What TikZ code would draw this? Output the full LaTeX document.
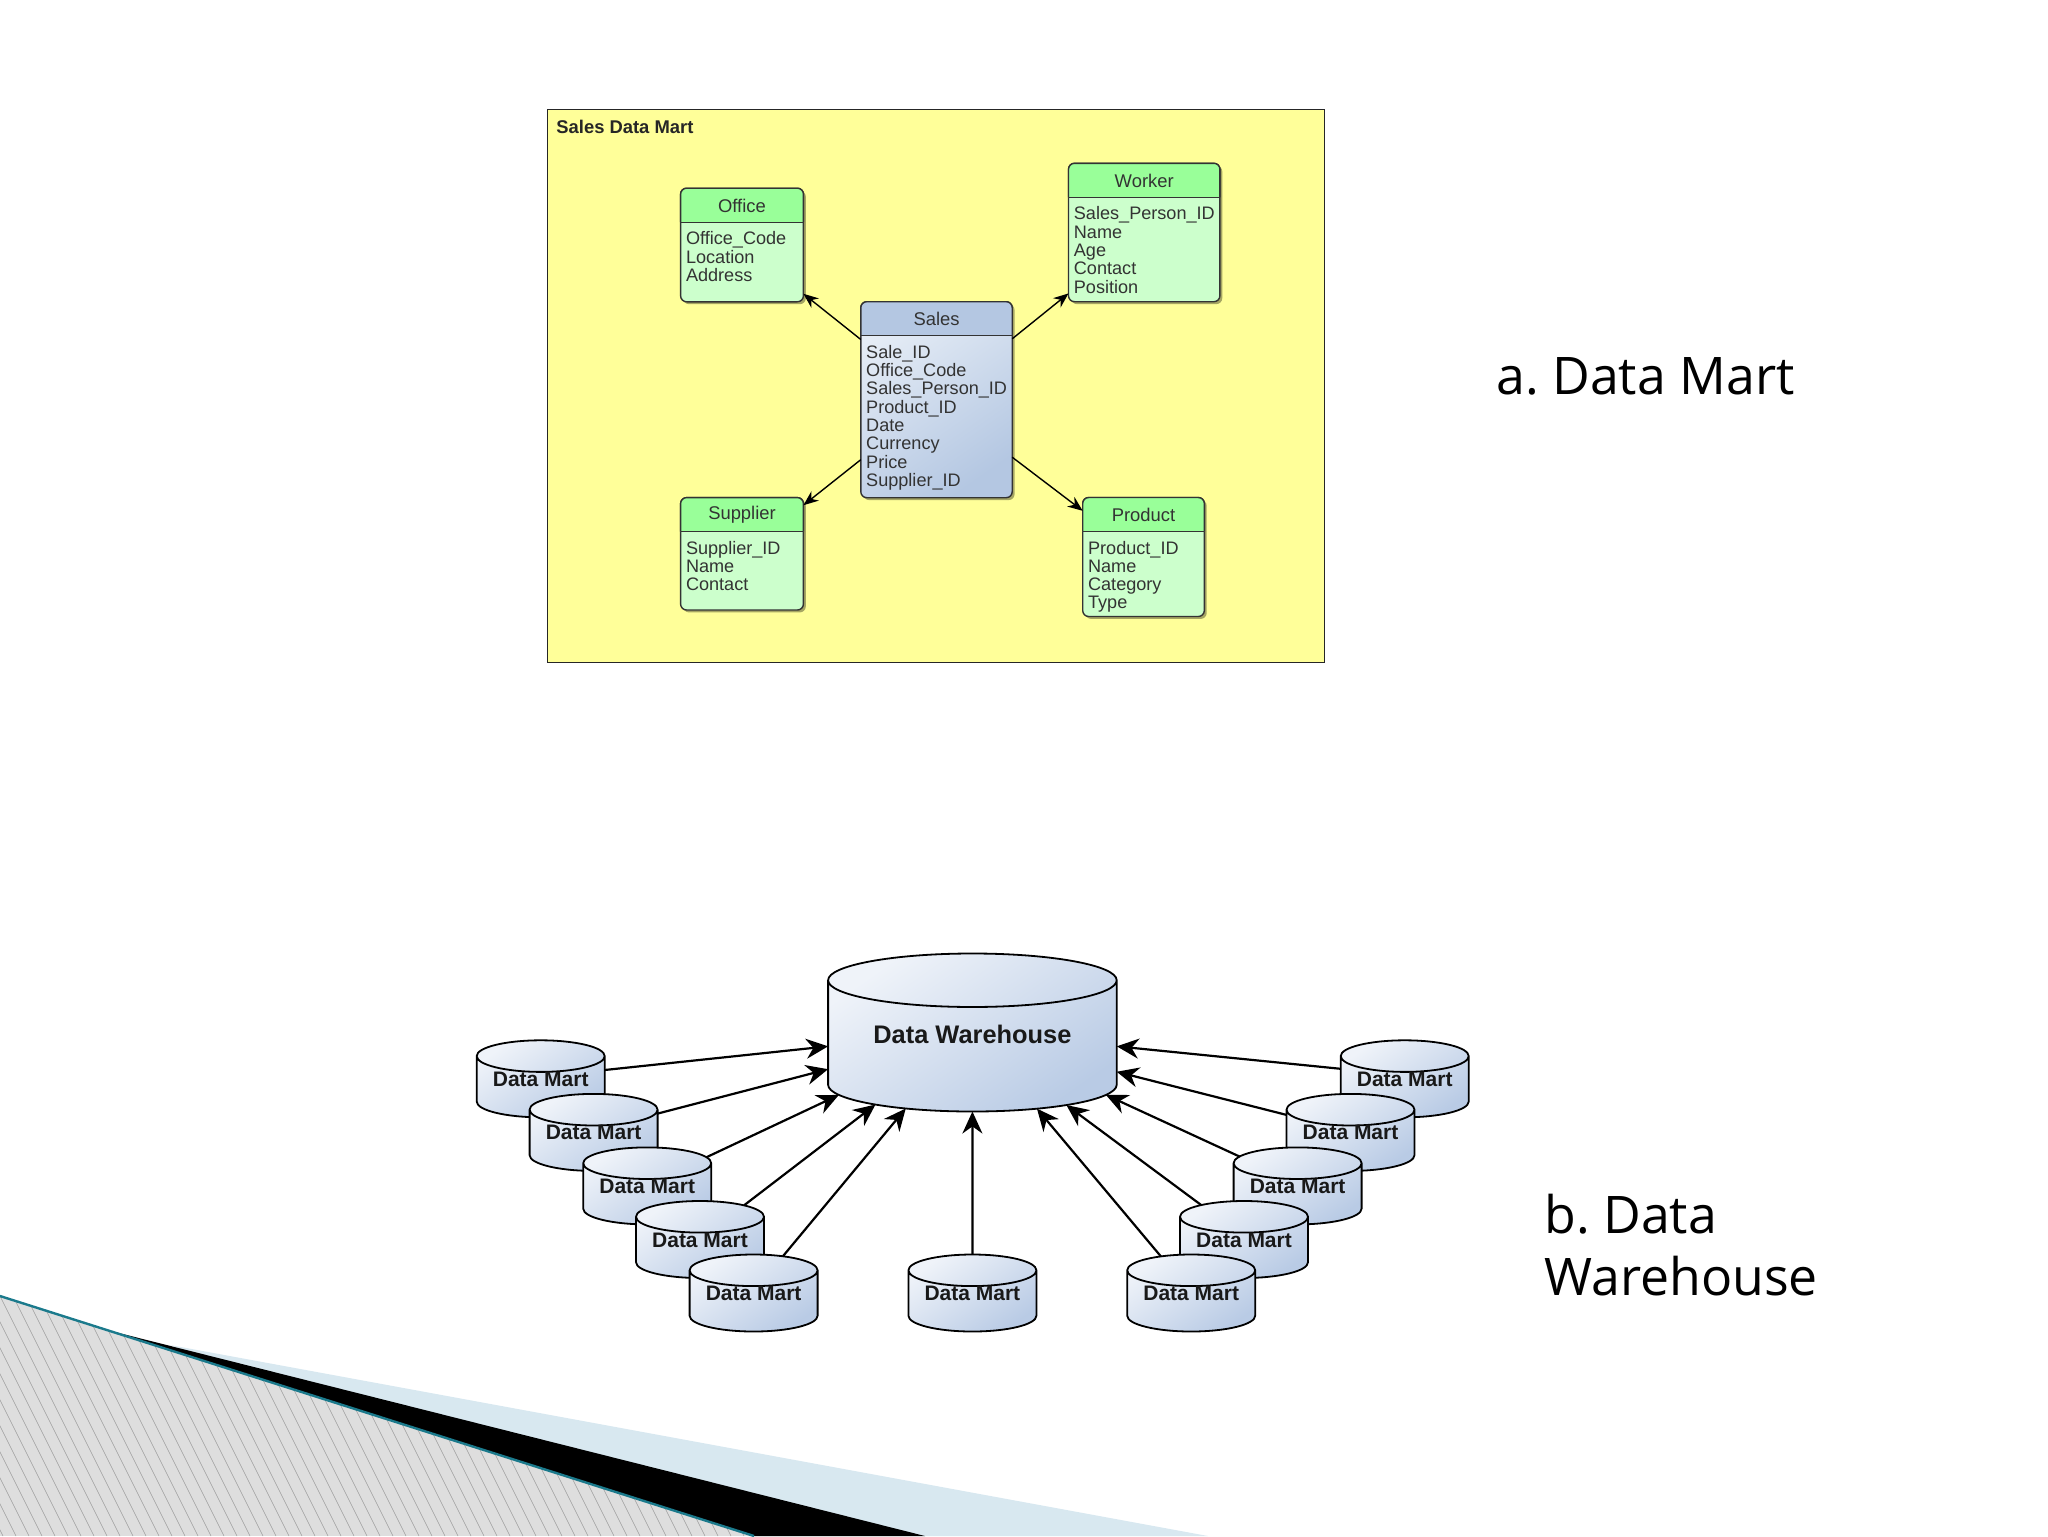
\documentclass[tikz,border=0pt]{standalone}
\usepackage{fontspec}
\setmainfont{Open Sans}
\newfontfamily\erfont{Liberation Sans}
\frenchspacing
\usetikzlibrary{positioning}
\usetikzlibrary{calc}
\usetikzlibrary{arrows.meta}
\usetikzlibrary{shapes.geometric}
\usetikzlibrary{shadows}

\definecolor{martyellow}{HTML}{FFFF99}
\definecolor{hdgreen}{HTML}{99FF99}
\definecolor{bdgreen}{HTML}{CCFFCC}
\definecolor{hdblue}{HTML}{B4C7E2}
\definecolor{bdblue}{HTML}{E6EDF6}
\definecolor{cylblue}{HTML}{B9CBE5}
\definecolor{cyllight}{HTML}{EFF3F9}
\definecolor{teal}{HTML}{1B7A8C}
\definecolor{pale}{HTML}{D8E8F0}

\tikzset{
	tblbox/.style={draw=black!80, line width=.7pt, rounded corners=3pt, inner sep=0pt, outer sep=0pt,
		drop shadow={shadow xshift=1.2pt, shadow yshift=-1.2pt, opacity=.35, fill=black}},
	greenbody/.style={tblbox, fill=bdgreen},
	bluebody/.style={tblbox, top color=bdblue, bottom color=hdblue, shading angle=35},
	tbltitle/.style={font=\erfont\fontsize{9.2}{9.2}\selectfont, text=black!80, inner sep=0pt},
	tblitems/.style={font=\erfont\fontsize{9.05}{9.15}\selectfont, text=black!80, align=left, inner sep=0pt, anchor=north west},
	erarrow/.style={-{Stealth[length=7.5pt,width=6pt]}, line width=.7pt, black},
	dbcyl/.style={cylinder, anchor=shape center, shape border rotate=90, draw=black, line width=.9pt, inner sep=0pt, outer sep=0pt,
		top color=cyllight, bottom color=cylblue, shading angle=35, text=black!90},
	martcyl/.style={dbcyl, aspect=.33, minimum width=64pt, minimum height=38.5pt, font=\erfont\bfseries\fontsize{10.5}{10.5}\selectfont},
	whcyl/.style={dbcyl, aspect=.27, minimum width=144.3pt, minimum height=79pt, font=\erfont\bfseries\fontsize{12.7}{12.7}\selectfont},
	wharrow/.style={-{Stealth[length=11pt,width=10pt]}, line width=1.1pt, black},
	sidelabel/.style={anchor=west, inner sep=0pt, align=left, font=\fontsize{25.9}{30.7}\selectfont, text=black},
}

% name, centre, width, height, body style, header colour, title, items
\newcommand{\dbtable}[8]{
	\node (#1) [#5, minimum width=#3, minimum height=#4] at #2 {};
	\coordinate (#1hl) at ($(#1.north west)+(0,34)$);
	\coordinate (#1hr) at ($(#1.north east)+(0,34)$);
	\draw[draw=black!80, line width=.7pt, fill=#6, rounded corners=3pt] (#1hl) -- (#1.north west) -- (#1.north east) -- (#1hr);
	\draw[draw=black!80, line width=.7pt] (#1hl) -- (#1hr);
	\node (#1title) [tbltitle] at ($(#1.north)+(0,17.5)$) {#7};
	\node (#1items) [tblitems] at ($(#1hl)+(5,9)$) {#8};
}

\begin{document}
\begin{tikzpicture}[x=.5pt,y=-.5pt]
	\useasboundingbox (0,0) rectangle (2048,1536);
	
	% corner decoration
	\fill[pale] (170,1345) -- (1208,1536) -- (700,1536) -- cycle;
	\fill[black] (115,1332) -- (925,1536) -- (754,1536) -- cycle;
	\begin{scope}
		\clip (0,1296) -- (754,1536) -- (0,1536) -- cycle;
		\fill[black!13] (0,1290) rectangle (760,1536);
		\foreach \hx in {-130,-117,...,760}
			\draw[black!38, line width=.25pt] (\hx,1296) -- ++(120,240);
	\end{scope}
	\draw[teal, line width=1.2pt] (0,1296) -- (754,1536);
	
	% sales data mart
	\node (martframe) [draw=black!85, line width=.7pt, fill=martyellow, minimum width=388.5pt, minimum height=276.2pt, inner sep=0pt] at (935.8,386) {};
	\node (marttitle) [font=\erfont\bfseries\fontsize{9.2}{9.2}\selectfont, text=black!85, inner sep=0pt, anchor=west] at (556,126.5) {Sales Data Mart};
	
	\dbtable{office}{(742,245)}{61.4pt}{56.8pt}{greenbody}{hdgreen}{Office}{Office\_Code\\Location\\Address}
	\dbtable{worker}{(1144.2,232.5)}{75.7pt}{69.2pt}{greenbody}{hdgreen}{Worker}{Sales\_Person\_ID\\Name\\Age\\Contact\\Position}
	\dbtable{sales}{(936.5,399.7)}{75.7pt}{98pt}{bluebody}{hdblue}{Sales}{Sale\_ID\\Office\_Code\\Sales\_Person\_ID\\Product\_ID\\Date\\Currency\\Price\\Supplier\_ID}
	\dbtable{supplier}{(742,553.8)}{61.4pt}{56.2pt}{greenbody}{hdgreen}{Supplier}{Supplier\_ID\\Name\\Contact}
	\dbtable{product}{(1143.5,557)}{60.8pt}{59.5pt}{greenbody}{hdgreen}{Product}{Product\_ID\\Name\\Category\\Type}
	
	\draw[erarrow] (sales) -- (office);
	\draw[erarrow] (sales) -- (worker);
	\draw[erarrow] (sales) -- (supplier);
	\draw[erarrow] (sales) -- (product);
	
	\node (labela) [sidelabel] at (1496,376) {a. Data Mart};
	
	% data warehouse
	\node (whouse) [whcyl] at (972.4,1032.5) {\raisebox{0pt}[0pt][2.9pt]{Data Warehouse}};
	
	\foreach \nm/\mx/\my in {ml1/540.7/1078.8, ml2/593.6/1132.4, ml3/647.2/1185.9, ml4/700/1239.5, ml5/753.6/1293,
		mc/972.4/1293,
		mr1/1404.7/1078.8, mr2/1350.5/1132.4, mr3/1297.6/1185.9, mr4/1244/1239.5, mr5/1191.2/1293}
		\node (\nm) [martcyl] at (\mx,\my) {\raisebox{0pt}[0pt][.8pt]{Data Mart}};
	
	\foreach \nm/\sang/\ang in {ml1/15.5/180, ml2/23.2/189.1, ml3/32.8/200.1, ml4/44.7/211.2, ml5/57.1/223.9, mc/90/270,
		mr5/124/316.1, mr4/135/328.8, mr3/147.7/340.3, mr2/158.2/350.9, mr1/164.3/0}
		\draw[wharrow] (\nm.\sang) -- (whouse.\ang);
	
	\node (labelb) [sidelabel] at (1544,1245) {b. Data\\Warehouse};
\end{tikzpicture}
\end{document}
